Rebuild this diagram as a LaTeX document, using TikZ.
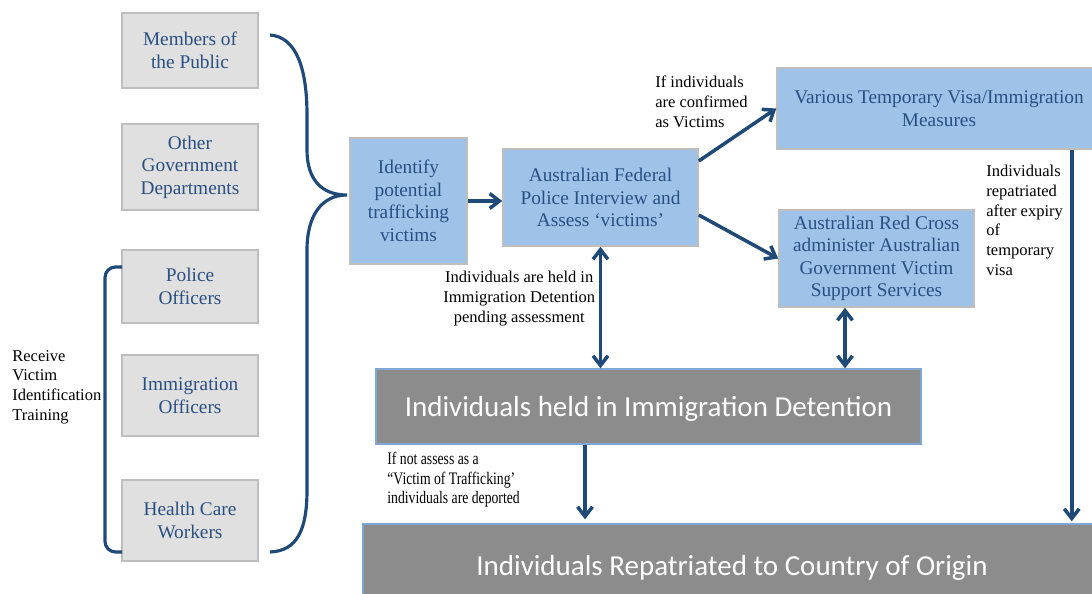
\documentclass[tikz,border=0pt]{standalone}
\usepackage{fontspec}
\setmainfont{Liberation Serif}
\newfontfamily\calib{Carlito}
\newfontfamily\narrowserif[FakeStretch=0.78, Ligatures=TeX]{Liberation Serif}
\usetikzlibrary{arrows.meta, positioning}
\definecolor{boxgray}{HTML}{E0E0E0}
\definecolor{edgegray}{HTML}{BEBEBE}
\definecolor{boxblue}{HTML}{9FC2E8}
\definecolor{textblue}{HTML}{2A4F82}
\definecolor{arrowblue}{HTML}{1F4A78}
\definecolor{darkgray}{HTML}{8C8C8C}
\definecolor{edgeblue}{HTML}{7EA7D8}

\begin{document}
\begin{tikzpicture}[x=0.02cm, y=-0.02cm, >={Straight Barb[length=5.5pt,width=8.5pt]},
  src/.style={draw=edgegray, fill=boxgray, line width=0.9pt, text=textblue, minimum width=2.72cm, inner sep=0pt, align=center, font=\fontsize{11}{12.8}\selectfont},
  blu/.style={draw=edgegray, fill=boxblue, line width=0.9pt, text=textblue, inner sep=0pt, align=center, font=\fontsize{11}{12.8}\selectfont},
  dark/.style={draw=edgeblue, fill=darkgray, line width=0.8pt, text=white, inner sep=0pt, font=\calib\fontsize{16.5}{18}\selectfont},
  note/.style={align=left, inner sep=0pt, anchor=north west, font=\fontsize{9.4}{11.2}\selectfont},
  flow/.style={draw=arrowblue, line width=2pt}]
  \useasboundingbox (0,0) rectangle (1092,594);

  % who identifies
  \node[src, minimum height=1.5cm] (pub) at (190,50.5) {Members of\\the Public};
  \node[src, minimum height=1.72cm] (gov) at (190,167) {Other\\Government\\Departments};
  \node[src, minimum height=1.46cm] (pol) at (190,286.5) {Police\\Officers};
  \node[src, minimum height=1.62cm] (imm) at (190,395.5) {Immigration\\Officers};
  \node[src, minimum height=1.62cm] (hcw) at (190,520.5) {Health Care\\Workers};

  \node[note] (train) at (12,350) {Receive\\Victim\\Identification\\Training};

  % process
  \node[blu, minimum width=2.34cm, minimum height=2.52cm] (idf) at (408.5,201) {Identify\\potential\\trafficking\\victims};
  \node[blu, minimum width=3.9cm, minimum height=1.94cm] (afp) at (600.5,197.5) {Australian Federal\\Police Interview and\\Assess `victims'};
  \node[blu, minimum width=6.48cm, minimum height=1.62cm] (visa) at (939,108.5) {Various Temporary Visa/Immigration\\Measures};
  \node[blu, minimum width=3.9cm, minimum height=1.94cm] (arc) at (876.5,258.5) {Australian Red Cross\\administer Australian\\Government Victim\\Support Services};
  \node[dark, minimum width=10.9cm, minimum height=1.5cm, text depth=-0.1cm] (det) at (648.5,406.5) {Individuals held in Immigration Detention};
  \node[dark, minimum width=14.76cm, minimum height=1.64cm, text depth=-0.05cm] (rep) at (732,565) {Individuals Repatriated to Country of Origin};

  % labels
  \node[note] (lconf) at (655,76) {If individuals\\are confirmed\\as Victims};
  \node[note, align=center] (lheld) at (443,271) {Individuals are held in\\Immigration Detention\\pending assessment};
  \node[note] (lexp) at (986,165) {Individuals\\repatriated\\after expiry\\of\\temporary\\visa};
  \node[note, font=\narrowserif\fontsize{10}{11}\selectfont] (ldep) at (387,452) {If not assess as a\\“Victim of Trafficking’\\individuals are deported};

  % braces
  \draw[flow, line width=1.8pt] (270,35) .. controls (297,37) and (307,70) .. (307,115) -- (307,150)
    .. controls (307,180) and (322,195) .. (347,195)
    .. controls (322,195) and (307,215) .. (307,250) -- (307,490)
    .. controls (307,530) and (297,551) .. (270,552);
  \draw[flow, line width=1.8pt, rounded corners=6pt] (122,267) -- (105,267) -- (105,552) -- (122,552);

  % arrows
  \draw[flow, ->] (idf.east) -- (idf.east -| afp.west);
  \draw[flow, ->] ([yshift=0.73cm]afp.east) -- (visa.west);
  \draw[flow, ->] ([yshift=-0.35cm]afp.east) -- (arc.west);
  \draw[flow, <->] (afp.south) -- (afp.south |- det.north);
  \draw[flow, <->] ([xshift=-0.63cm]arc.south) -- ([xshift=-0.63cm]arc.south |- det.north);
  \draw[flow, ->] ([xshift=-1.27cm]det.south) -- ([xshift=-1.27cm,yshift=0.08cm]det.south |- rep.north);
  \draw[flow, ->] ([xshift=-0.6cm]visa.south east) -- ([xshift=-0.6cm,yshift=0.04cm]visa.south east |- rep.north);
\end{tikzpicture}
\end{document}
